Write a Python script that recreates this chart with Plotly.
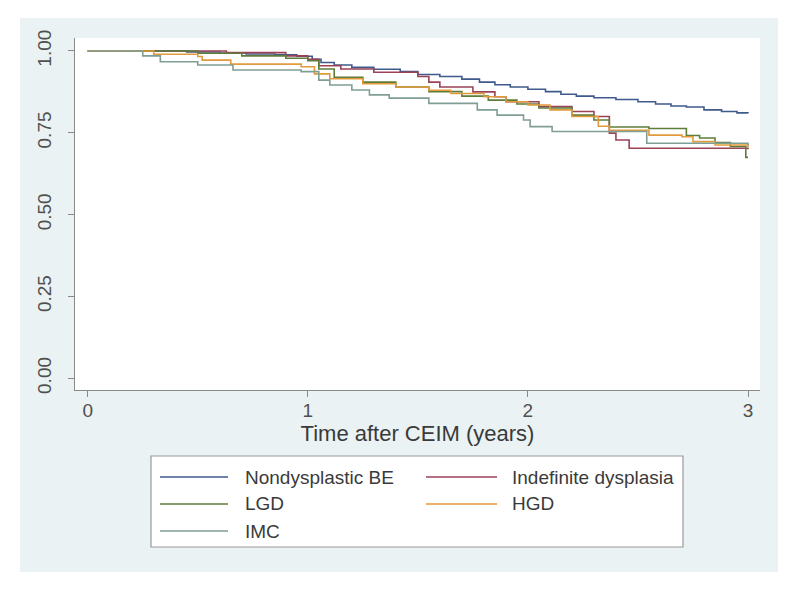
import plotly.graph_objects as go

# ---------------- data ----------------
series_names = ["Nondysplastic BE", "Indefinite dysplasia", "LGD", "HGD", "IMC"]

nd_t = [0, 0.45, 0.6, 0.72, 0.85, 0.95, 1.02, 1.06, 1.12, 1.2, 1.3, 1.42, 1.5, 1.6, 1.7,
        1.78, 1.85, 1.92, 2.0, 2.08, 2.15, 2.22, 2.3, 2.4, 2.5, 2.58, 2.65, 2.72, 2.8,
        2.88, 2.95, 3.0]
nd_s = [1.0, 0.997, 0.994, 0.991, 0.988, 0.984, 0.975, 0.965, 0.957, 0.95, 0.944, 0.937,
        0.928, 0.922, 0.914, 0.905, 0.897, 0.89, 0.883, 0.876, 0.868, 0.862, 0.857, 0.852,
        0.845, 0.838, 0.832, 0.829, 0.82, 0.815, 0.811, 0.81]

ind_t = [0, 0.63, 0.9, 1.0, 1.05, 1.15, 1.3, 1.5, 1.55, 1.6, 1.75, 1.85, 1.9, 2.05, 2.2,
         2.3, 2.37, 2.4, 2.46, 3.0]
ind_s = [1.0, 0.995, 0.985, 0.975, 0.955, 0.945, 0.935, 0.922, 0.905, 0.89, 0.875, 0.86,
         0.845, 0.83, 0.815, 0.80, 0.749, 0.728, 0.703, 0.70]

lgd_t = [0, 0.5, 0.7, 0.9, 1.0, 1.05, 1.12, 1.25, 1.4, 1.55, 1.7, 1.82, 1.95, 2.05, 2.2,
         2.3, 2.37, 2.55, 2.72, 2.78, 2.85, 2.92, 2.99, 3.0]
lgd_s = [1.0, 0.993, 0.985, 0.978, 0.97, 0.945, 0.92, 0.905, 0.89, 0.876, 0.862, 0.85,
         0.838, 0.826, 0.804, 0.789, 0.768, 0.763, 0.742, 0.734, 0.72, 0.708, 0.675, 0.675]

hgd_t = [0, 0.3, 0.5, 0.52, 0.65, 0.97, 1.03, 1.1, 1.25, 1.4, 1.55, 1.65, 1.8, 1.9, 2.0,
         2.1, 2.2, 2.32, 2.37, 2.55, 2.7, 2.75, 2.85, 3.0]
hgd_s = [1.0, 0.99, 0.983, 0.972, 0.96, 0.952, 0.93, 0.915, 0.9, 0.89, 0.88, 0.87, 0.86,
         0.845, 0.835, 0.82, 0.80, 0.77, 0.758, 0.743, 0.738, 0.723, 0.713, 0.705]

imc_t = [0, 0.25, 0.33, 0.5, 0.66, 0.97, 1.05, 1.1, 1.2, 1.28, 1.37, 1.55, 1.77, 1.86,
         1.98, 2.01, 2.11, 2.54, 3.0]
imc_s = [1.0, 0.985, 0.967, 0.957, 0.942, 0.937, 0.911, 0.896, 0.881, 0.866, 0.856, 0.84,
         0.82, 0.804, 0.789, 0.769, 0.754, 0.718, 0.713]

x_ticks = [0, 1, 2, 3]
y_ticks = [0.0, 0.25, 0.5, 0.75, 1.0]
y_tick_labels = ["0.00", "0.25", "0.50", "0.75", "1.00"]

colors = ["#3f5a8c", "#9b4257", "#5e7d3a", "#e39a3c", "#7f9e95"]
series_t = [nd_t, ind_t, lgd_t, hgd_t, imc_t]
series_s = [nd_s, ind_s, lgd_s, hgd_s, imc_s]

# ---------------- geometry (page pixels; the page body adds an 8px offset) ----------------
OFF = 8
W, H = 800 - 2 * OFF, 593 - 2 * OFF
PL, PR, PT, PB = 75, 760, 38, 390   # plot area in page pixels


def px(x):
    return (x - PL) / (PR - PL)


def py(y):
    return (PB - y) / (PB - PT)


fig = go.Figure()
for name, t, s, c in zip(series_names, series_t, series_s, colors):
    fig.add_trace(go.Scatter(x=t, y=s, mode="lines", name=name,
                             line=dict(color=c, width=1.6, shape="hv"),
                             showlegend=False))

font_family = "Liberation Sans, Arial, sans-serif"
gray_text = "#505050"
axis_col = "#8a8a8a"

shapes = []
shapes.append(dict(type="rect", xref="paper", yref="paper",
                   x0=px(20), x1=px(778), y0=py(572), y1=py(18),
                   fillcolor="#eaf2f3", line=dict(width=0), layer="below"))
shapes.append(dict(type="rect", xref="paper", yref="paper",
                   x0=px(75), x1=px(760), y0=py(390), y1=py(38),
                   fillcolor="white", line=dict(width=0), layer="below"))
shapes.append(dict(type="rect", xref="paper", yref="paper",
                   x0=px(151), x1=px(683), y0=py(547), y1=py(456),
                   fillcolor="white", line=dict(color="#9a9a9a", width=1.2)))

annotations = []
leg_cols = [(160, 228, 243), (426, 497, 510)]
leg_rows = [477, 504, 531]
for i, (name, c) in enumerate(zip(series_names, colors)):
    r, col = divmod(i, 2)
    x0, x1, xt = leg_cols[col]
    yy = leg_rows[r]
    shapes.append(dict(type="line", xref="paper", yref="paper",
                       x0=px(x0), x1=px(x1), y0=py(yy), y1=py(yy),
                       line=dict(color=c, width=1.6)))
    annotations.append(dict(xref="paper", yref="paper", x=px(xt), y=py(yy),
                            text=name, showarrow=False, xanchor="left",
                            yanchor="middle",
                            font=dict(family=font_family, size=19, color="#3a3a3a")))

x0v = -0.0577
x1v = 3.0545
y0v = -0.0357
y1v = 1.0397

fig.update_layout(
    width=W, height=H,
    margin=dict(l=PL - OFF, r=W - (PR - OFF), t=PT - OFF, b=H - (PB - OFF), pad=0),
    paper_bgcolor="white",
    plot_bgcolor="rgba(0,0,0,0)",
    shapes=shapes,
    annotations=annotations,
    showlegend=False,
    font=dict(family=font_family, color=gray_text),
    xaxis=dict(range=[x0v, x1v], tickvals=x_ticks, ticktext=[str(v) for v in x_ticks],
               showgrid=False, zeroline=False, showline=True, linecolor=axis_col,
               linewidth=1, ticks="outside", ticklen=6, tickcolor=axis_col,
               tickfont=dict(size=19, color=gray_text), ticklabelstandoff=-3,
               title=dict(text="Time after CEIM (years)", standoff=0,
                          font=dict(size=22, color="#3a3a3a"))),
    yaxis=dict(range=[y0v, y1v], tickvals=y_ticks, ticktext=y_tick_labels,
               showgrid=False, zeroline=False, showline=True, linecolor=axis_col,
               linewidth=1, ticks="outside", ticklen=6, tickcolor=axis_col,
               tickangle=-90, tickfont=dict(size=19, color=gray_text),
               ticklabelstandoff=9),
)

fig.write_html("out.html")
